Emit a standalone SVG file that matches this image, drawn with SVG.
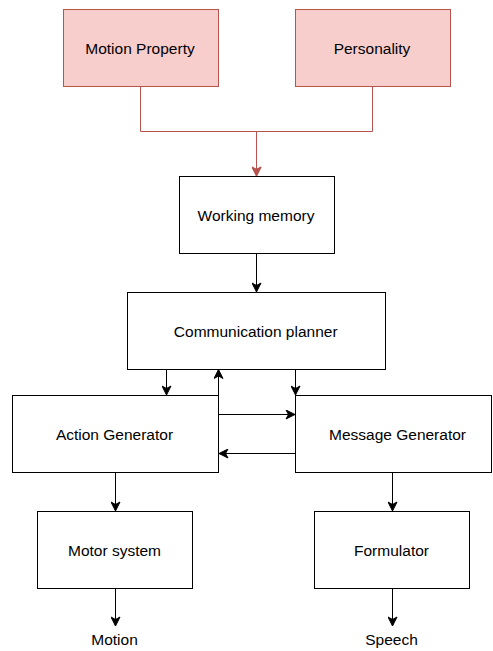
<svg xmlns="http://www.w3.org/2000/svg" width="493" height="651" viewBox="0 0 493 651">
<defs>
<marker id="ab" viewBox="-10 -5 11 10" refX="0" refY="0" markerWidth="11" markerHeight="10" markerUnits="userSpaceOnUse" orient="auto">
<path d="M0,0 L-9,-4.5 L-6.5,0 L-9,4.5 Z" fill="#000000" stroke="#000000" stroke-width="1"/>
</marker>
<marker id="ar" viewBox="-10 -5 11 10" refX="0" refY="0" markerWidth="11" markerHeight="10" markerUnits="userSpaceOnUse" orient="auto">
<path d="M0,0 L-9,-4.5 L-6.5,0 L-9,4.5 Z" fill="#b85450" stroke="#b85450" stroke-width="1"/>
</marker>
</defs>
<style>
.box{fill:#ffffff;stroke:#000000;stroke-width:1}
.red{fill:#f8cecc;stroke:#b85450;stroke-width:1}
.t{font-family:"Liberation Sans",Arial,Helvetica,sans-serif;font-size:15.5px;fill:#000000;text-anchor:middle}
.e{fill:none;stroke:#000000;stroke-width:1;marker-end:url(#ab)}
.er{fill:none;stroke:#b85450;stroke-width:1;marker-end:url(#ar)}
</style>
<rect width="493" height="651" fill="#ffffff"/>
<g id="connectors">
<path class="er" d="M140.5,86.5 V131.5 H256.5 V176"/>
<path class="er" d="M372.5,86.5 V131.5 H256.5 V176"/>
<path class="e" d="M256.5,253.5 V292"/>
<path class="e" d="M166.5,369.5 V395"/>
<path class="e" d="M218.5,395.5 V369.5"/>
<path class="e" d="M295.5,369.5 V395"/>
<path class="e" d="M218.5,414.5 H295"/>
<path class="e" d="M295.5,453.5 H219"/>
<path class="e" d="M115.5,472.5 V511"/>
<path class="e" d="M392.5,472.5 V511"/>
<path class="e" d="M115.5,588.5 V626"/>
<path class="e" d="M392.5,588.5 V626"/>
</g>
<g id="motion-property">
<rect class="red" x="63.5" y="9.5" width="155" height="77"/>
<text class="t" x="140" y="53.5">Motion Property</text>
</g>
<g id="personality">
<rect class="red" x="295.5" y="9.5" width="155" height="77"/>
<text class="t" x="372" y="53.5">Personality</text>
</g>
<g id="working-memory">
<rect class="box" x="179.5" y="176.5" width="155" height="77"/>
<text class="t" x="256" y="220.5">Working memory</text>
</g>
<g id="communication-planner">
<rect class="box" x="127.5" y="292.5" width="258" height="77"/>
<text class="t" x="255.7" y="336.5">Communication planner</text>
</g>
<g id="action-generator">
<rect class="box" x="12.5" y="395.5" width="206" height="77"/>
<text class="t" x="114.5" y="439.5">Action Generator</text>
</g>
<g id="message-generator">
<rect class="box" x="295.5" y="395.5" width="196" height="77"/>
<text class="t" x="397.5" y="439.5">Message Generator</text>
</g>
<g id="motor-system">
<rect class="box" x="37.5" y="511.5" width="155" height="77"/>
<text class="t" x="114.5" y="555.5">Motor system</text>
</g>
<g id="formulator">
<rect class="box" x="314.5" y="511.5" width="155" height="77"/>
<text class="t" x="391.5" y="555.5">Formulator</text>
</g>
<g id="motion-label">
<text class="t" x="114.5" y="644.5">Motion</text>
</g>
<g id="speech-label">
<text class="t" x="391.5" y="644.5">Speech</text>
</g>
</svg>
